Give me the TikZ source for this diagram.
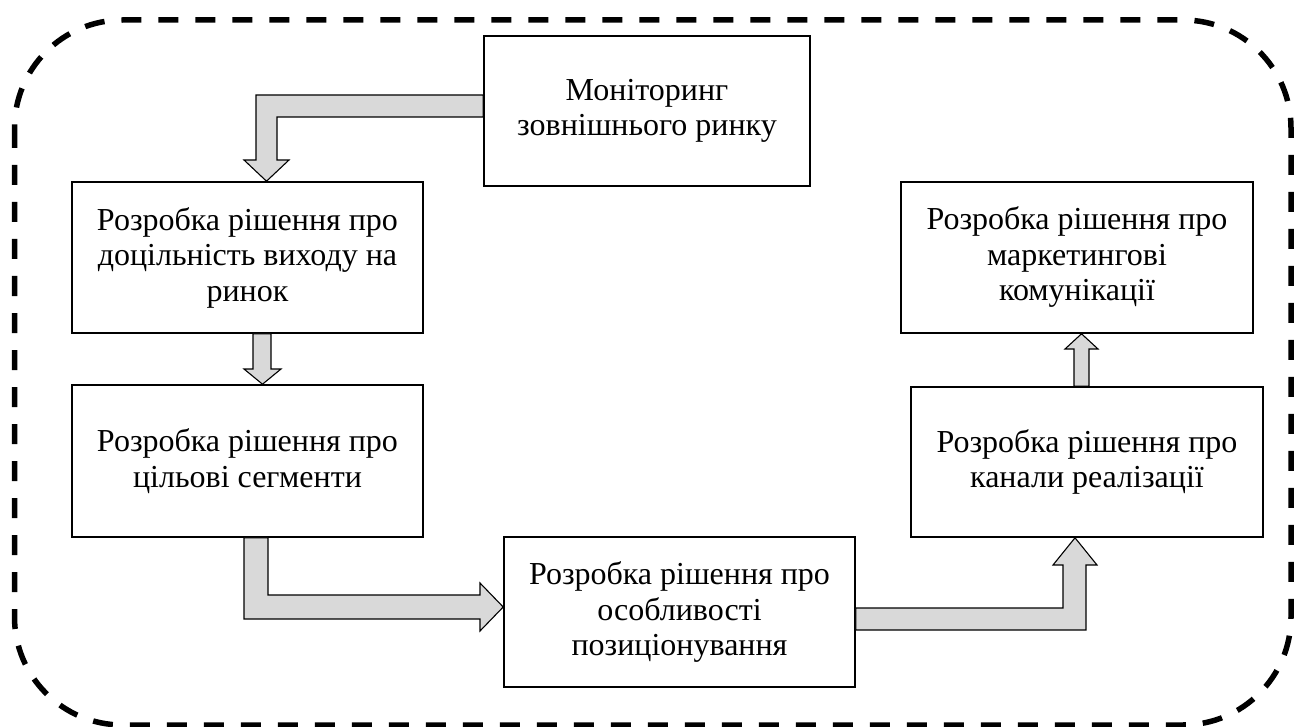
\documentclass[tikz,border=0pt]{standalone}
\usepackage{fontspec}
\setmainfont{Liberation Serif}
\usetikzlibrary{calc}
\definecolor{arrfill}{HTML}{D9D9D9}
\begin{document}
\begin{tikzpicture}[x=1pt,y=-1pt,
  stepbox/.style={draw=black, line width=1.6pt, fill=white, align=center, inner sep=4pt,
    font=\fontsize{32}{35.5}\selectfont},
  arr/.style={draw=black, line width=1.1pt, fill=arrfill, line join=miter},
  frame/.style={draw=black, line width=5.5pt, dash pattern=on 20pt off 17pt, rounded corners=108pt}]
\useasboundingbox (0,0) rectangle (1295,727);
\draw[frame] (14.5,20) rectangle (1291,725);

\node[stepbox, minimum width=326pt, minimum height=150pt] (M) at (647,111) {Моніторинг\\зовнішнього ринку};
\node[stepbox, minimum width=351pt, minimum height=151pt] (A) at (247.5,257.5) {Розробка рішення про\\доцільність виходу на\\ринок};
\node[stepbox, minimum width=351pt, minimum height=152pt] (B) at (247.5,461) {Розробка рішення про\\цільові сегменти};
\node[stepbox, minimum width=351pt, minimum height=150pt] (C) at (679.5,612) {Розробка рішення про\\особливості\\позиціонування};
\node[stepbox, minimum width=352pt, minimum height=150pt] (D) at (1087,462) {Розробка рішення про\\канали реалізації};
\node[stepbox, minimum width=352pt, minimum height=151pt] (E) at (1077,257.5) {Розробка рішення про\\маркетингові\\комунікації};

% M -> A
\draw[arr] ($(M.west)+(0,-16)$) -- (256,95) -- (256,160) -- (244,160) -- ($(A.north)+(19,0)$)
  -- (289,160) -- (277,160) -- (277,117) -- ($(M.west)+(0,6)$) -- cycle;
% A -> B
\draw[arr] ($(A.south)+(5.5,0)$) -- (253,369) -- (244,369) -- ($(B.north)+(15,0)$)
  -- (281,369) -- (271,369) -- ($(A.south)+(23.5,0)$) -- cycle;
% B -> C
\draw[arr] ($(B.south)+(-3.5,0)$) -- (244,619) -- (480,619) -- (480,631) -- ($(C.west)+(0,-5)$)
  -- (480,583) -- (480,595) -- (268,595) -- ($(B.south)+(20.5,0)$) -- cycle;
% C -> D
\draw[arr] ($(C.east)+(0,18)$) -- (1086,630) -- (1086,565) -- (1097,565) -- ($(D.south)+(-12,0)$)
  -- (1053,565) -- (1063,565) -- (1063,608) -- ($(C.east)+(0,-4)$) -- cycle;
% D -> E
\draw[arr] ($(D.north)+(-13,0)$) -- (1074,349) -- (1065,349) -- ($(E.south)+(4.5,0)$)
  -- (1098,349) -- (1089,349) -- ($(D.north)+(2,0)$) -- cycle;
\end{tikzpicture}
\end{document}
